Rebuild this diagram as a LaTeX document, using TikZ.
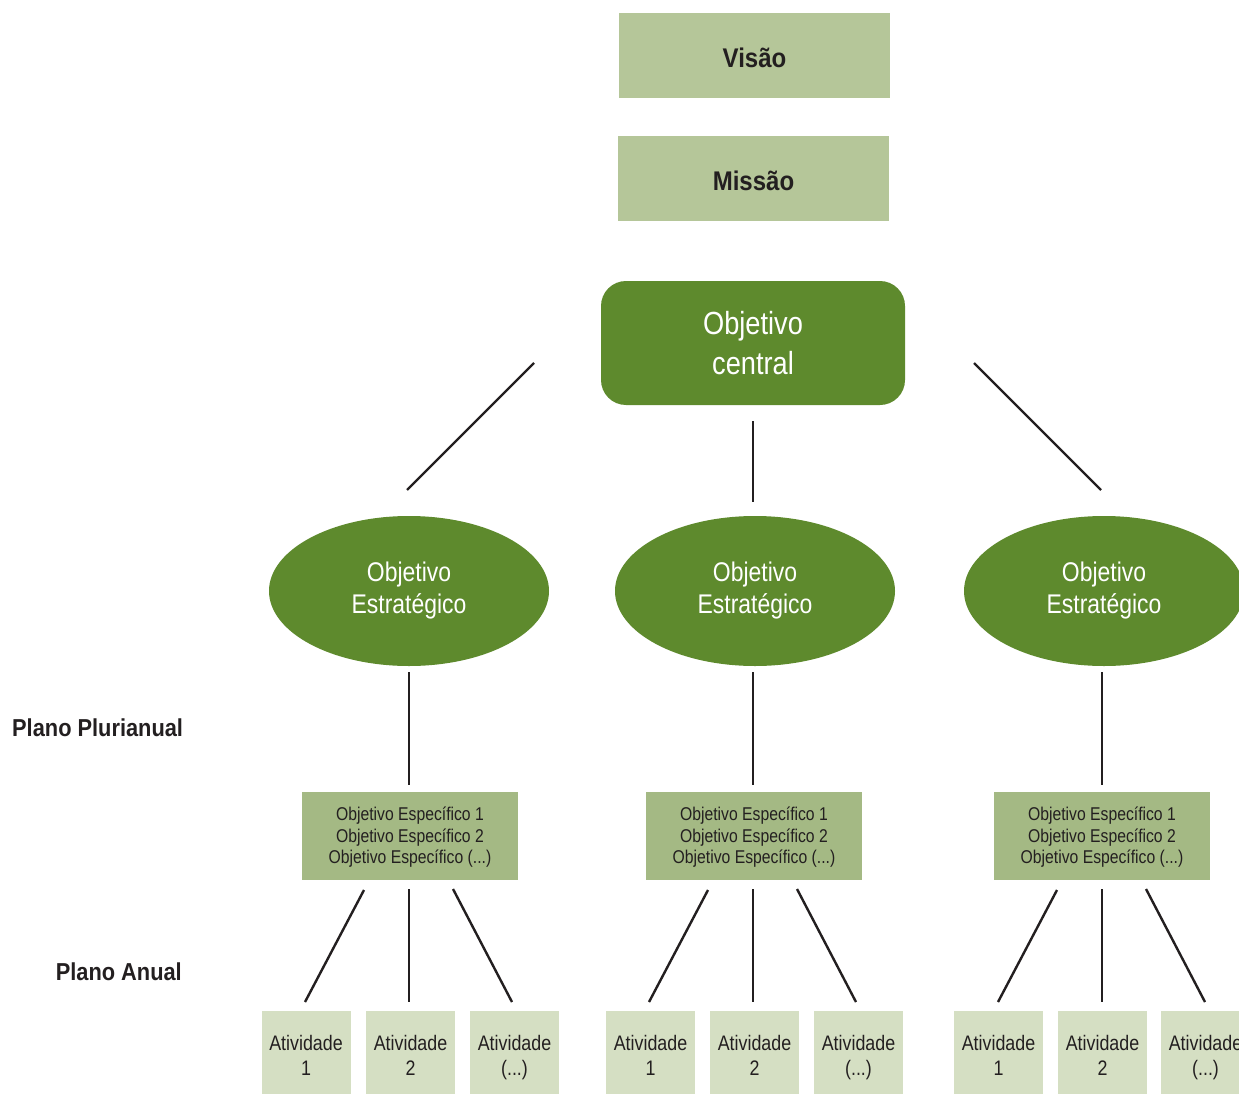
\documentclass[tikz,border=0pt]{standalone}
\usepackage{fontspec}
\setmainfont{Liberation Sans}[FakeStretch=0.85]
\newfontfamily\boldcond{Liberation Sans Bold}[FakeStretch=0.89]
\usetikzlibrary{shapes.geometric}
\definecolor{lightgreen}{HTML}{B5C699}
\definecolor{midgreen}{HTML}{A4B984}
\definecolor{palegreen}{HTML}{D5DFC3}
\definecolor{darkgreen}{HTML}{5E8A2D}
\definecolor{inkc}{HTML}{231F20}
\tikzset{
  topbox/.style={fill=lightgreen, minimum width=271pt, minimum height=85pt, inner sep=0pt,
    text=inkc, font=\boldcond\fontsize{27}{30}\selectfont},
  central/.style={fill=darkgreen, rounded corners=25pt, minimum width=304pt, minimum height=124pt,
    inner sep=0pt, align=center, text=white, font=\fontsize{32}{40}\selectfont},
  strat/.style={ellipse, fill=darkgreen, minimum width=280pt, minimum height=150pt, inner sep=0pt,
    align=center, text=white, font=\fontsize{27}{32}\selectfont},
  specbox/.style={fill=midgreen, minimum width=216pt, minimum height=88pt, inner sep=0pt,
    align=center, text=inkc, font=\fontsize{18.5}{21.5}\selectfont},
  actbox/.style={fill=palegreen, minimum width=89pt, minimum height=83pt, inner sep=0pt,
    align=center, text=inkc, font=\fontsize{21}{25}\selectfont},
  conn/.style={draw=inkc, line width=2.4pt},
  planlabel/.style={text=inkc, font=\boldcond\fontsize{24.5}{28}\selectfont, inner sep=0pt}
}
\newcommand{\lowr}[2]{\raisebox{-#1}[\height][\depth]{#2}}
\newcommand{\actlabel}[1]{\lowr{5pt}{\begin{tabular}{@{}c@{}}Atividade\\#1\vphantom{()}\end{tabular}}}
\newcommand{\speclabel}{\lowr{2pt}{\begin{tabular}{@{}c@{}}Objetivo Específico 1\\Objetivo Específico 2\\Objetivo Específico (...)\end{tabular}}}
\begin{document}
\begin{tikzpicture}[x=1pt,y=-1pt]
\useasboundingbox (0,0) rectangle (1239,1094);
\clip (0,0) rectangle (1239,1094);

\node[topbox] (visao) at (754.5,55.5) {\lowr{2pt}{Visão}};
\node[topbox] (missao) at (753.5,178.5) {\lowr{2pt}{Missão}};
\node[central] (oc) at (753,343) {Objetivo\\central};

\node[strat] (e1) at (409,591) {Objetivo\\Estratégico};
\node[strat] (e2) at (755,591) {Objetivo\\Estratégico};
\node[strat] (e3) at (1104,591) {Objetivo\\Estratégico};

\coordinate (c1a) at (534,363); \coordinate (c1b) at (407,490);
\coordinate (c2a) at (753,421); \coordinate (c2b) at (753,502);
\coordinate (c3a) at (974,363); \coordinate (c3b) at (1101,490);
\draw[conn] (c1a) -- (c1b);
\draw[conn] (c2a) -- (c2b);
\draw[conn] (c3a) -- (c3b);

\node[specbox] (s1) at (410,836) {\speclabel};
\node[specbox] (s2) at (754,836) {\speclabel};
\node[specbox] (s3) at (1102,836) {\speclabel};

\foreach \x in {409,753,1102}{
  \draw[conn] (\x,672) -- (\x,785);
}

\node[planlabel, anchor=west] (pp) at (12,728) {Plano Plurianual};
\node[planlabel, anchor=east] (pa) at (182,972) {Plano Anual};

\node[actbox] (a11) at (306,1052.5) {\actlabel{1}};
\node[actbox] (a12) at (410.5,1052.5) {\actlabel{2}};
\node[actbox] (a13) at (514.5,1052.5) {\actlabel{(...)}};
\node[actbox] (a21) at (650.5,1052.5) {\actlabel{1}};
\node[actbox] (a22) at (754.5,1052.5) {\actlabel{2}};
\node[actbox] (a23) at (858.5,1052.5) {\actlabel{(...)}};
\node[actbox] (a31) at (998.5,1052.5) {\actlabel{1}};
\node[actbox] (a32) at (1102.5,1052.5) {\actlabel{2}};
\node[actbox] (a33) at (1205.5,1052.5) {\actlabel{(...)}};

\foreach \cx in {409,753,1102}{
  \draw[conn] (\cx-45,890) -- (\cx-104,1002);
  \draw[conn] (\cx,889) -- (\cx,1002);
  \draw[conn] (\cx+44,889) -- (\cx+103,1002);
}
\end{tikzpicture}
\end{document}
